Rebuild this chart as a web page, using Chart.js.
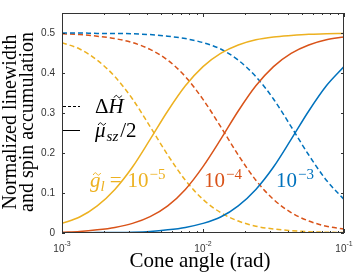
<!DOCTYPE html>
<html>
<head>
<meta charset="utf-8">
<script src="https://cdn.jsdelivr.net/npm/chart.js@4.4.1/dist/chart.umd.min.js"></script>
<style>
  html, body { margin: 0; padding: 0; background: #fff; }
</style>
</head>
<body>
<canvas id="myChart" width="354" height="274"></canvas>
<script>
// cone angle samples (rad), log spaced
const coneAngle = [1.000e-3, 1.334e-3, 1.778e-3, 2.371e-3, 3.162e-3, 4.217e-3, 5.623e-3, 7.499e-3,
                   1.000e-2, 1.334e-2, 1.778e-2, 2.371e-2, 3.162e-2, 4.217e-2, 5.623e-2, 7.499e-2, 1.000e-1];

// g_l = 1e-5 (yellow)
const muG5 = [0.024, 0.040, 0.068, 0.109, 0.165, 0.234, 0.305, 0.368, 0.416, 0.449, 0.470, 0.483, 0.490, 0.494, 0.497, 0.498, 0.499];
const dhG5 = [0.476, 0.460, 0.432, 0.391, 0.335, 0.266, 0.195, 0.132, 0.084, 0.051, 0.030, 0.017, 0.010, 0.006, 0.003, 0.002, 0.001];
// g_l = 1e-4 (orange)
const muG4 = [0.002, 0.004, 0.008, 0.014, 0.024, 0.041, 0.068, 0.109, 0.166, 0.234, 0.305, 0.368, 0.416, 0.449, 0.470, 0.483, 0.490];
const dhG4 = [0.498, 0.496, 0.492, 0.486, 0.476, 0.459, 0.432, 0.391, 0.334, 0.266, 0.195, 0.132, 0.084, 0.051, 0.030, 0.017, 0.010];
// g_l = 1e-3 (blue)
const muG3 = [0.000, 0.000, 0.001, 0.001, 0.002, 0.004, 0.008, 0.014, 0.024, 0.040, 0.068, 0.109, 0.165, 0.234, 0.305, 0.368, 0.416];
const dhG3 = [0.500, 0.500, 0.499, 0.499, 0.498, 0.496, 0.492, 0.486, 0.476, 0.460, 0.432, 0.391, 0.335, 0.266, 0.195, 0.132, 0.084];

const yTicks = [0, 0.1, 0.2, 0.3, 0.4, 0.5];
const xDecades = [1e-3, 1e-2, 1e-1];
const xTickExp = ['-3', '-2', '-1'];
const gLabels = ['−5', '−4', '−3'];

const BLUE = '#0072BD', ORANGE = '#D95319', YELLOW = '#EDB120';
const AXIS = '#333333';
const SERIF = '"Liberation Serif", serif';

function pts(ys) {
  return ys.map((y, i) => ({ x: coneAngle[i], y: y }));
}

function line(ys, color, dashed) {
  return {
    data: pts(ys),
    borderColor: color,
    borderWidth: 1.5,
    borderDash: dashed ? [5, 3] : [],
    pointRadius: 0,
    fill: false,
    cubicInterpolationMode: 'monotone'
  };
}

// draw text pieces one after another (italic, sub/superscript, tilde)
function runText(ctx, x, y, runs, color) {
  ctx.fillStyle = color;
  ctx.strokeStyle = color;
  ctx.textAlign = 'left';
  ctx.textBaseline = 'alphabetic';
  runs.forEach(r => {
    const yy = y + (r.dy || 0);
    ctx.font = (r.italic ? 'italic ' : '') + r.size + 'px ' + SERIF;
    const w = ctx.measureText(r.text).width;
    ctx.fillText(r.text, x, yy);
    if (r.tilde) {
      const tw = r.size * 0.36;
      const cx = x + w / 2 + r.size * 0.08;
      const ty = yy - r.size * r.tilde;
      ctx.lineWidth = 1;
      ctx.setLineDash([]);
      ctx.beginPath();
      ctx.moveTo(cx - tw / 2, ty + 1);
      ctx.bezierCurveTo(cx - tw / 4, ty - 2, cx - tw / 8, ty - 1.5, cx, ty);
      ctx.bezierCurveTo(cx + tw / 8, ty + 1.5, cx + tw / 4, ty + 2, cx + tw / 2, ty - 1);
      ctx.stroke();
    }
    x += w + (r.gap || 0);
  });
  return x;
}

const decor = {
  id: 'decor',
  afterDraw(chart) {
    const ctx = chart.ctx;
    const a = chart.chartArea;
    const xs = chart.scales.x, ys = chart.scales.y;
    ctx.save();

    // box
    ctx.strokeStyle = AXIS;
    ctx.lineWidth = 1;
    ctx.setLineDash([]);
    ctx.strokeRect(Math.round(a.left) + 0.5, Math.round(a.top) + 0.5,
                   Math.round(a.right - a.left) - 1, Math.round(a.bottom - a.top) - 1);

    // inward ticks
    ctx.beginPath();
    yTicks.forEach(v => {
      const py = Math.round(ys.getPixelForValue(v)) + 0.5;
      ctx.moveTo(a.left, py); ctx.lineTo(a.left + 3, py);
      ctx.moveTo(a.right, py); ctx.lineTo(a.right - 3, py);
    });
    xDecades.forEach(d => {
      for (let m = 1; m <= 9; m++) {
        const v = d * m;
        if (v > xs.max * 1.0001) break;
        const px = Math.round(xs.getPixelForValue(v)) + 0.5;
        const len = m === 1 ? 4 : 2;
        ctx.moveTo(px, a.bottom); ctx.lineTo(px, a.bottom - len);
        ctx.moveTo(px, a.top); ctx.lineTo(px, a.top + len);
      }
    });
    ctx.stroke();

    // x tick labels 10^n
    ctx.fillStyle = AXIS;
    ctx.textBaseline = 'alphabetic';
    ctx.textAlign = 'left';
    xDecades.forEach((d, i) => {
      const px = xs.getPixelForValue(d);
      ctx.font = '10px "Liberation Sans"';
      const w1 = ctx.measureText('10').width;
      ctx.font = '7px "Liberation Sans"';
      const w2 = ctx.measureText(xTickExp[i]).width;
      let x0 = px - (w1 + w2) / 2;
      if (x0 + w1 + w2 > 353) x0 = 353 - w1 - w2;
      ctx.font = '10px "Liberation Sans"';
      ctx.fillText('10', x0, a.bottom + 19);
      ctx.font = '7px "Liberation Sans"';
      ctx.fillText(xTickExp[i], x0 + w1, a.bottom + 13);
    });

    // axis titles
    ctx.fillStyle = '#000';
    ctx.textAlign = 'center';
    ctx.font = '21px ' + SERIF;
    ctx.fillText('Cone angle (rad)', 200, 267);
    ctx.save();
    ctx.translate(0, 122);
    ctx.rotate(-Math.PI / 2);
    ctx.font = '20px ' + SERIF;
    ctx.fillText('Normalized linewidth', 0, 16);
    ctx.fillText('and spin accumulation', 0, 33);
    ctx.restore();

    // legend
    ctx.strokeStyle = '#000';
    ctx.lineWidth = 1;
    ctx.setLineDash([3, 2]);
    ctx.beginPath(); ctx.moveTo(63, 106.5); ctx.lineTo(80, 106.5); ctx.stroke();
    ctx.setLineDash([]);
    ctx.beginPath(); ctx.moveTo(63, 130.5); ctx.lineTo(80, 130.5); ctx.stroke();
    runText(ctx, 95, 113, [
      { text: 'Δ', size: 21 },
      { text: 'H', size: 21, italic: true, tilde: 0.78 }
    ], '#000');
    runText(ctx, 95, 137, [
      { text: 'μ', size: 21, italic: true, tilde: 0.62, gap: 1 },
      { text: 'sz', size: 15, italic: true, dy: 4, gap: 2 },
      { text: '/2', size: 21 }
    ], '#000');

    // g_l annotations
    runText(ctx, 90, 187, [
      { text: 'g', size: 21, italic: true, tilde: 0.62 },
      { text: 'l', size: 15, italic: true, dy: 4, gap: 5 },
      { text: '=', size: 21, gap: 6 },
      { text: '10', size: 21, gap: 1 },
      { text: gLabels[0], size: 15, dy: -8 }
    ], YELLOW);
    runText(ctx, 204, 187, [
      { text: '10', size: 21, gap: 1 },
      { text: gLabels[1], size: 15, dy: -8 }
    ], ORANGE);
    runText(ctx, 276, 187, [
      { text: '10', size: 21, gap: 1 },
      { text: gLabels[2], size: 15, dy: -8 }
    ], BLUE);

    ctx.restore();
  }
};

const ctx = document.getElementById('myChart').getContext('2d');
new Chart(ctx, {
  type: 'line',
  data: {
    datasets: [
      line(muG3, BLUE, false),
      line(muG4, ORANGE, false),
      line(muG5, YELLOW, false),
      line(dhG3, BLUE, true),
      line(dhG4, ORANGE, true),
      line(dhG5, YELLOW, true)
    ]
  },
  options: {
    responsive: false,
    animation: false,
    layout: { padding: { top: 4, right: 10, left: 0, bottom: 0 } },
    plugins: { legend: { display: false }, tooltip: { enabled: false } },
    scales: {
      x: {
        type: 'logarithmic',
        min: 1e-3,
        max: 1e-1,
        grid: { display: false, drawTicks: false },
        border: { display: false },
        ticks: { display: false },
        afterFit: s => { s.height = 41; }
      },
      y: {
        min: 0,
        max: 0.55,
        grid: { display: false, drawTicks: false },
        border: { display: false },
        ticks: {
          stepSize: 0.1,
          includeBounds: false,
          padding: 7,
          color: AXIS,
          font: { family: 'Liberation Sans', size: 10 },
          callback: v => (v > 0.5001 ? '' : (v === 0 ? '0' : v.toFixed(1)))
        },
        afterFit: s => { s.width = 62; }
      }
    }
  },
  plugins: [decor]
});
</script>
</body>
</html>
